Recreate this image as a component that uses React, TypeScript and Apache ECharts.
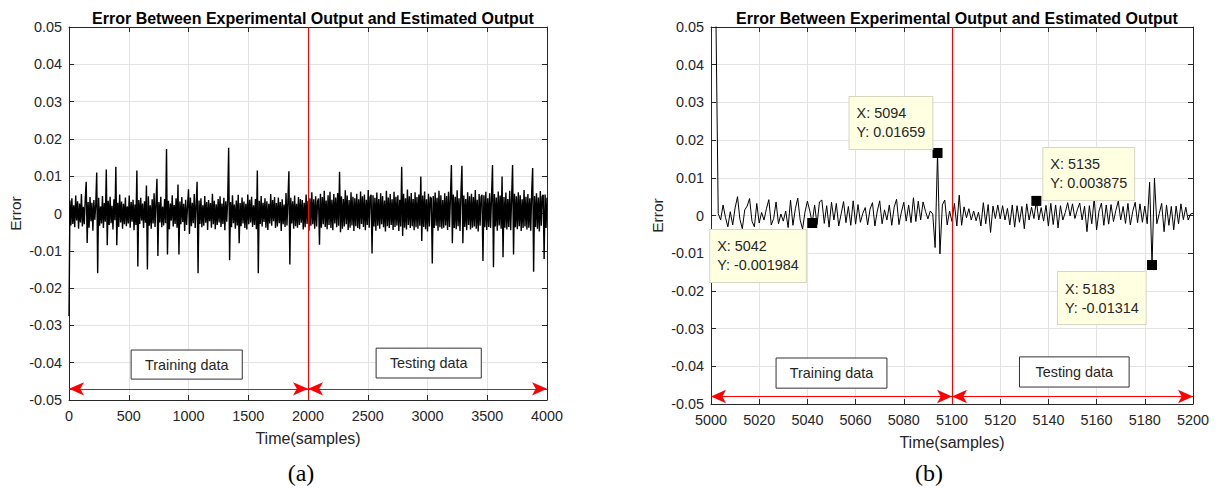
import React, { useEffect, useRef } from "react";
import * as echarts from "echarts";

const TITLE = "Error Between Experimental Output and Estimated Output";
const X_NAME = "Time(samples)";
const Y_NAME = "Error";
const Y_MIN = -0.05;
const Y_MAX = 0.05;
const Y_STEP = 0.01;

// Panel (a): samples 0..4000, read every 8th sample
const startA = 0;
const stepA = 8;
const errorA = [
  -0.0275, 0.0035, -0.0032, 0.0041, -0.0028, 0.0022, -0.0037, 0.0048, -0.0019, 0.0033, -0.0041, 0.0027, -0.0024, 0.0052, -0.0035, 0.0018, -0.0029, 0.0039, 0.0085, -0.0079,
  0.0031, -0.0038, 0.0044, -0.0021, 0.0029, -0.0046, 0.0036, -0.0017, 0.0025, 0.011, -0.016, 0.0042, -0.0033, 0.0019, -0.0027, 0.0047, -0.0039, 0.0028, -0.0022, 0.0118,
  -0.0085, 0.0034, -0.0031, 0.0045, -0.0026, 0.0021, -0.0043, 0.0038, -0.0018, 0.0125, -0.0085, 0.0029, -0.0036, 0.0051, -0.0024, 0.0032, -0.0041, 0.0026, -0.0029, 0.0043,
  -0.0034, 0.0019, -0.0027, 0.0048, -0.0038, 0.0031, -0.0022, 0.0037, -0.0045, 0.0024, -0.0031, 0.0115, -0.0142, 0.0036, -0.0028, 0.0042, -0.0019, 0.0027, -0.0039, 0.0033,
  -0.0025, 0.0075, -0.015, 0.0046, -0.0033, 0.0022, -0.0041, 0.0038, -0.0027, 0.0054, -0.0036, 0.0028, 0.0093, -0.0114, 0.0031, -0.0024, 0.0045, -0.0037, 0.0019, -0.0032,
  0.0039, -0.0026, 0.0173, -0.011, 0.0034, -0.0042, 0.0027, -0.0019, 0.0049, -0.0035, 0.0023, -0.0028, 0.0041, -0.0038, 0.0078, -0.011, 0.0032, -0.0029, 0.0044, -0.0023,
  0.0026, -0.0047, 0.0037, -0.0031, 0.0021, 0.0065, -0.0055, 0.0043, -0.0034, 0.0029, -0.0026, 0.0052, -0.0039, 0.0024, 0.0085, -0.016, 0.0035, -0.0028, 0.0041, -0.0037,
  0.0022, -0.0033, 0.0047, -0.0025, 0.0031, -0.0044, 0.0036, -0.0021, 0.0028, -0.0038, 0.0053, -0.0029, 0.0034, -0.0042, 0.0025, -0.0031, 0.0039, -0.0024, 0.0046, -0.0036,
  0.0027, -0.0028, 0.0042, -0.0045, 0.0033, -0.0022, 0.0038, 0.0176, -0.0125, 0.0031, -0.0037, 0.0049, -0.0026, 0.0024, -0.0041, 0.0035, -0.0032, 0.005, -0.008, 0.0028,
  -0.0034, 0.0043, -0.0027, 0.0032, -0.0039, 0.0026, -0.0043, 0.0051, -0.0029, 0.0037, -0.0024, 0.0045, -0.0036, 0.0022, -0.0031, 0.0039, -0.0042, 0.0115, -0.016, 0.0034,
  -0.0028, 0.0047, -0.0035, 0.0029, -0.0023, 0.0041, -0.0038, 0.0033, -0.0044, 0.0026, -0.0027, 0.0052, -0.0033, 0.0036, -0.0021, 0.0044, -0.0039, 0.0028, -0.0035, 0.0043,
  -0.0026, 0.0031, -0.0047, 0.0038, -0.0029, 0.0024, -0.0036, 0.0055, -0.0032, 0.0035, 0.0113, -0.0137, 0.0042, -0.0027, 0.0033, -0.0041, 0.0048, -0.0034, 0.0026, -0.0038,
  0.0044, -0.0031, 0.0039, -0.0025, 0.0036, -0.0043, 0.0029, -0.0037, 0.0051, -0.0028, 0.0034, -0.0046, 0.0041, -0.0033, 0.0057, -0.0029, 0.0038, -0.0041, 0.0046, -0.0035,
  0.0032, 0.004, -0.0084, 0.0053, -0.0038, 0.0044, -0.0029, 0.0061, -0.0036, 0.0035, -0.0042, 0.0049, -0.0031, 0.0058, -0.0039, 0.0037, -0.0045, 0.0052, -0.0027, 0.0043,
  -0.0037, 0.0055, -0.0033, 0.0112, -0.005, 0.0046, -0.0041, 0.0039, -0.0035, 0.0062, -0.0029, 0.0048, -0.0044, 0.0036, -0.0038, 0.0057, -0.0032, 0.0045, -0.0047, 0.0041,
  -0.0034, 0.0053, -0.0039, 0.0038, -0.0042, 0.0059, -0.0028, 0.0046, -0.0036, 0.0051, -0.0045, 0.0037, -0.0031, 0.0063, -0.0038, 0.0044, 0.005, -0.0107, 0.0049, -0.0035,
  0.0042, -0.0046, 0.0056, -0.0033, 0.0039, -0.0041, 0.0054, -0.0029, 0.0047, -0.0037, 0.0035, -0.0048, 0.0061, -0.0034, 0.0043, -0.0039, 0.0052, -0.0031, 0.0038, -0.0044,
  0.0058, -0.0036, 0.0045, -0.0032, 0.0049, -0.0047, 0.0037, -0.0035, 0.0125, -0.006, 0.0053, -0.0038, 0.0041, -0.0043, 0.0064, -0.0031, 0.0046, -0.0039, 0.0055, -0.0034,
  0.0039, -0.0045, 0.0057, -0.0037, 0.0044, -0.0041, 0.0051, -0.0033, 0.0099, -0.0074, 0.0048, -0.0036, 0.0059, -0.0042, 0.0038, -0.0048, 0.0053, -0.0035, 0.0045, 0.004,
  -0.0134, 0.0047, -0.0039, 0.0056, -0.0033, 0.0042, -0.0046, 0.0061, -0.0037, 0.0049, -0.0041, 0.0036, -0.0038, 0.0054, -0.0032, 0.0047, -0.0044, 0.0058, -0.0036, 0.0043,
  0.013, -0.008, 0.0051, -0.0039, 0.0045, -0.0042, 0.0062, -0.0034, 0.0041, -0.0047, 0.0055, 0.0128, -0.008, 0.0048, -0.0036, 0.0039, -0.0045, 0.0057, -0.0031, 0.0046,
  -0.0043, 0.0053, -0.0038, 0.0044, -0.0035, 0.0063, -0.0041, 0.0037, -0.0048, 0.0052, -0.0033, 0.0045, 0.005, -0.0127, 0.0049, -0.0037, 0.0058, -0.0044, 0.0041, -0.0036,
  0.0054, -0.0039, 0.0047, 0.013, -0.0144, 0.0052, -0.0035, 0.0043, -0.0046, 0.0059, -0.0032, 0.0048, -0.0041, 0.0099, -0.0117, 0.0044, -0.0038, 0.0056, -0.0043, 0.0039,
  -0.0036, 0.0061, -0.0045, 0.0042, 0.013, -0.011, 0.0053, -0.0037, 0.0046, -0.0042, 0.0057, -0.0034, 0.0049, -0.0047, 0.0038, -0.0039, 0.0063, -0.0035, 0.0045, -0.0043,
  0.0052, -0.0038, 0.0041, -0.0046, 0.0058, 0.0122, -0.0156, 0.0047, -0.0036, 0.0054, -0.0041, 0.0043, -0.0048, 0.006, -0.0033, 0.0046, 0.005, -0.0122, 0.0051, -0.0039,
  0.0042,
];

// Panel (b): samples 5000..5200, every sample
const startB = 5000;
const errorB = [
  0.12, 0.08, 0.055, 0.0005, -0.0012, 0.0028, -0.0005, -0.003, 0.001, -0.0025,
  0.002, 0.005, -0.001, -0.0035, 0.0015, 0.0025, 0.0045, -0.0015, -0.003, 0.0032,
  -0.002, 0.0008, -0.0012, 0.0018, 0.0042, -0.0025, -0.0008, 0.0036, -0.0022, 0.0004,
  -0.0015, 0.0012, -0.0032, 0.0041, -0.0026, 0.0018, 0.0046, -0.0012, -0.0036, 0.0009,
  0.0038, 0.0012, -0.001984, 0.0028, -0.0024, 0.0036, 0.0041, -0.0021, 0.0026, -0.0031,
  0.0035, -0.0012, 0.0032, -0.0028, 0.0004, 0.0037, -0.0019, 0.0024, -0.0026, 0.0039,
  -0.0023, 0.0029, -0.0018, 0.0006, 0.0021, -0.0025, 0.0017, 0.0034, -0.0028, 0.0012,
  0.0039, -0.0022, 0.0015, -0.0012, 0.0028, -0.0026, 0.0022, 0.0043, -0.0024, 0.0009,
  0.0035, -0.0015, 0.0028, -0.0019, 0.0047, -0.0016, 0.0038, -0.0012, 0.0036, 0.0011,
  -0.0009, 0.0012, 0.0004, -0.0085, 0.01659, -0.0102, 0.0028, 0.0041, -0.0025, 0.0012,
  -0.0016, 0.0032, -0.0028, 0.0054, -0.0026, 0.0023, -0.0006, 0.0018, -0.0012, 0.0012,
  -0.0014, 0.0009, -0.0028, 0.0034, -0.0022, 0.0029, -0.0045, 0.0025, -0.0008, 0.0028,
  -0.0009, 0.0026, -0.0012, 0.0019, -0.0025, 0.0028, -0.0031, 0.0026, -0.0018, 0.0024,
  -0.0035, 0.0031, -0.0012, 0.0022, -0.0008, 0.003875, -0.0012, 0.0021, -0.0015, 0.0027,
  -0.0028, 0.0032, -0.0024, 0.0028, -0.0033, 0.0026, -0.0012, 0.0008, 0.0034, -0.0001,
  0.0031, -0.0008, 0.0015, 0.0033, -0.0012, 0.0025, -0.0043, 0.0026, -0.0022, 0.0046,
  -0.0038, 0.0012, 0.0033, -0.0026, 0.0028, -0.0023, 0.0029, -0.0016, 0.0014, 0.0038,
  -0.0012, 0.0024, -0.0021, 0.0032, -0.0025, 0.0011, 0.0035, -0.0019, 0.0031, -0.0018,
  0.0025, -0.0022, 0.0088, -0.01314, 0.0099, -0.0022, 0.0005, 0.0032, -0.0043, 0.0028,
  -0.0026, 0.0024, -0.0038, 0.0025, -0.0022, 0.0031, -0.0011, 0.0022, -0.0012, 0.0004,
  0.0006,
];

const splitA = 2000;
const splitB = 5100;
const arrowYA = -0.047;
const arrowYB = -0.048;
const regionLabels = ["Training data", "Testing data"];
// [x1, y1, x2, y2] for the label boxes
const boxesA = [
  [520, -0.0366, 1450, -0.0444],
  [2570, -0.0361, 3450, -0.0441],
];
const boxesB = [
  [5027, -0.0378, 5073, -0.0458],
  [5128, -0.0375, 5173.5, -0.0455],
];
const tipX = [5042, 5094, 5135, 5183];
const tipY = [-0.001984, 0.01659, 0.003875, -0.01314];
const tipOffsets = [
  [-97, 12],
  [-83, -51],
  [12, -48],
  [-89, 12],
];

const FONT = "'Liberation Sans', Arial, Helvetica, sans-serif";
const AX = "#262626";

function yLabel(v: number) {
  return String(Number(v.toFixed(2)));
}
function xLabel(v: number) {
  return String(Math.round(v));
}

export default function App() {
  const ref = useRef<HTMLDivElement>(null);

  useEffect(() => {
    if (!ref.current) return;
    const chart = echarts.init(ref.current, undefined, { renderer: "svg" });

    const dataA = errorA.map((v, i) => [startA + i * stepA, v]);
    const dataB = errorB.map((v, i) => [startB + i, v]);

    const mainX = (grid: number, min: number, max: number, interval: number) => ({
      type: "value",
      gridIndex: grid,
      min,
      max,
      interval,
      name: X_NAME,
      nameLocation: "middle",
      nameGap: 30,
      nameTextStyle: { fontSize: 16, color: AX, fontFamily: FONT },
      axisLine: { show: true, onZero: false, lineStyle: { color: AX, width: 1 } },
      axisTick: { show: true, inside: true, length: 5, lineStyle: { color: AX } },
      axisLabel: { color: AX, fontSize: 14.4, fontFamily: FONT, margin: 9, formatter: xLabel },
      splitLine: { show: true, lineStyle: { color: "#e3e3e3", width: 1 } },
    });
    const topX = (grid: number, min: number, max: number, interval: number) => ({
      type: "value",
      gridIndex: grid,
      position: "top",
      min,
      max,
      interval,
      axisLine: { show: true, onZero: false, lineStyle: { color: AX, width: 1 } },
      axisTick: { show: true, inside: true, length: 5, lineStyle: { color: AX } },
      axisLabel: { show: false },
      splitLine: { show: false },
    });
    const mainY = (grid: number) => ({
      type: "value",
      gridIndex: grid,
      min: Y_MIN,
      max: Y_MAX,
      interval: Y_STEP,
      name: Y_NAME,
      nameLocation: "middle",
      nameGap: 46,
      nameTextStyle: { fontSize: 15.5, color: AX, fontFamily: FONT },
      axisLine: { show: true, onZero: false, lineStyle: { color: AX, width: 1 } },
      axisTick: { show: true, inside: true, length: 5, lineStyle: { color: AX } },
      axisLabel: { color: AX, fontSize: 14.4, fontFamily: FONT, margin: 7, formatter: yLabel },
      splitLine: { show: true, lineStyle: { color: "#e3e3e3", width: 1 } },
    });
    const rightY = (grid: number) => ({
      type: "value",
      gridIndex: grid,
      position: "right",
      min: Y_MIN,
      max: Y_MAX,
      interval: Y_STEP,
      axisLine: { show: true, onZero: false, lineStyle: { color: AX, width: 1 } },
      axisTick: { show: true, inside: true, length: 5, lineStyle: { color: AX } },
      axisLabel: { show: false },
      splitLine: { show: false },
    });

    const markLines = (split: number, x0: number, x1: number, y: number) => ({
      silent: true,
      animation: false,
      label: { show: false },
      emphasis: { disabled: true },
      data: [
        [
          { xAxis: split, yAxis: Y_MIN, symbol: "none" },
          { xAxis: split, yAxis: Y_MAX, symbol: "none" },
        ],
        [
          { coord: [x0, y], symbol: "arrow" },
          { coord: [split, y], symbol: "arrow" },
        ],
        [
          { coord: [split, y], symbol: "arrow" },
          { coord: [x1, y], symbol: "arrow" },
        ],
      ],
      symbolSize: [10, 15],
      lineStyle: { color: "#ff0000", width: 1, type: "solid" },
      itemStyle: { color: "#ff0000" },
    });

    const markAreas = (boxes: number[][]) => ({
      silent: true,
      data: boxes.map((b, i) => [
        { coord: [b[0], b[1]], name: regionLabels[i] },
        { coord: [b[2], b[3]] },
      ]),
      itemStyle: { color: "#ffffff", opacity: 1, borderColor: "#333333", borderWidth: 1 },
      label: {
        show: true,
        position: "inside",
        color: AX,
        fontSize: 14.4,
        fontFamily: FONT,
      },
    });

    chart.setOption({
      animation: false,
      backgroundColor: "#ffffff",
      title: [
        {
          text: TITLE,
          left: 308,
          top: 5,
          textAlign: "center",
          textStyle: { fontSize: 16, fontWeight: "bold", color: "#000", fontFamily: FONT },
        },
        {
          text: TITLE,
          left: 952,
          top: 5,
          textAlign: "center",
          textStyle: { fontSize: 16, fontWeight: "bold", color: "#000", fontFamily: FONT },
        },
      ],
      grid: [
        { left: 69, top: 27, width: 478, height: 373 },
        { left: 711, top: 27, width: 482, height: 377 },
      ],
      xAxis: [
        mainX(0, 0, 4000, 500),
        mainX(1, 5000, 5200, 20),
        topX(0, 0, 4000, 500),
        topX(1, 5000, 5200, 20),
      ],
      yAxis: [mainY(0), mainY(1), rightY(0), rightY(1)],
      graphic: [
        {
          type: "text",
          x: 301,
          y: 473,
          style: {
            text: "(a)",
            font: "24px 'Liberation Serif', 'Times New Roman', serif",
            fill: "#000",
            textAlign: "center",
            textVerticalAlign: "middle",
          },
        },
        {
          type: "text",
          x: 929,
          y: 473,
          style: {
            text: "(b)",
            font: "24px 'Liberation Serif', 'Times New Roman', serif",
            fill: "#000",
            textAlign: "center",
            textVerticalAlign: "middle",
          },
        },
      ],
      series: [
        {
          type: "line",
          xAxisIndex: 0,
          yAxisIndex: 0,
          data: dataA,
          symbol: "none",
          showSymbol: false,
          silent: true,
          clip: true,
          lineStyle: { color: "#000", width: 1.4 },
          markLine: markLines(splitA, 0, 4000, arrowYA),
          markArea: markAreas(boxesA),
        },
        {
          type: "line",
          xAxisIndex: 1,
          yAxisIndex: 1,
          data: dataB,
          symbol: "none",
          showSymbol: false,
          silent: true,
          clip: true,
          lineStyle: { color: "#000", width: 1 },
          markLine: markLines(splitB, 5000, 5200, arrowYB),
          markArea: markAreas(boxesB),
          markPoint: {
            silent: true,
            symbol: "rect",
            symbolSize: 10,
            itemStyle: { color: "#000" },
            data: tipX.map((x, i) => ({
              coord: [x, tipY[i]],
              label: {
                show: true,
                position: tipOffsets[i],
                formatter: `X: ${x}\nY: ${tipY[i]}`,
                align: "left",
                verticalAlign: "top",
                color: AX,
                fontSize: 14.4,
                fontFamily: FONT,
                lineHeight: 19,
                backgroundColor: "#ffffe1",
                borderColor: "#d6d6c2",
                borderWidth: 1,
                padding: [7, 7, 7, 7],
              },
            })),
          },
        },
      ],
    });

    return () => chart.dispose();
  }, []);

  return (
    <div
      ref={ref}
      style={{ position: "absolute", left: 0, top: 0, width: 1218, height: 490, background: "#fff" }}
    />
  );
}
